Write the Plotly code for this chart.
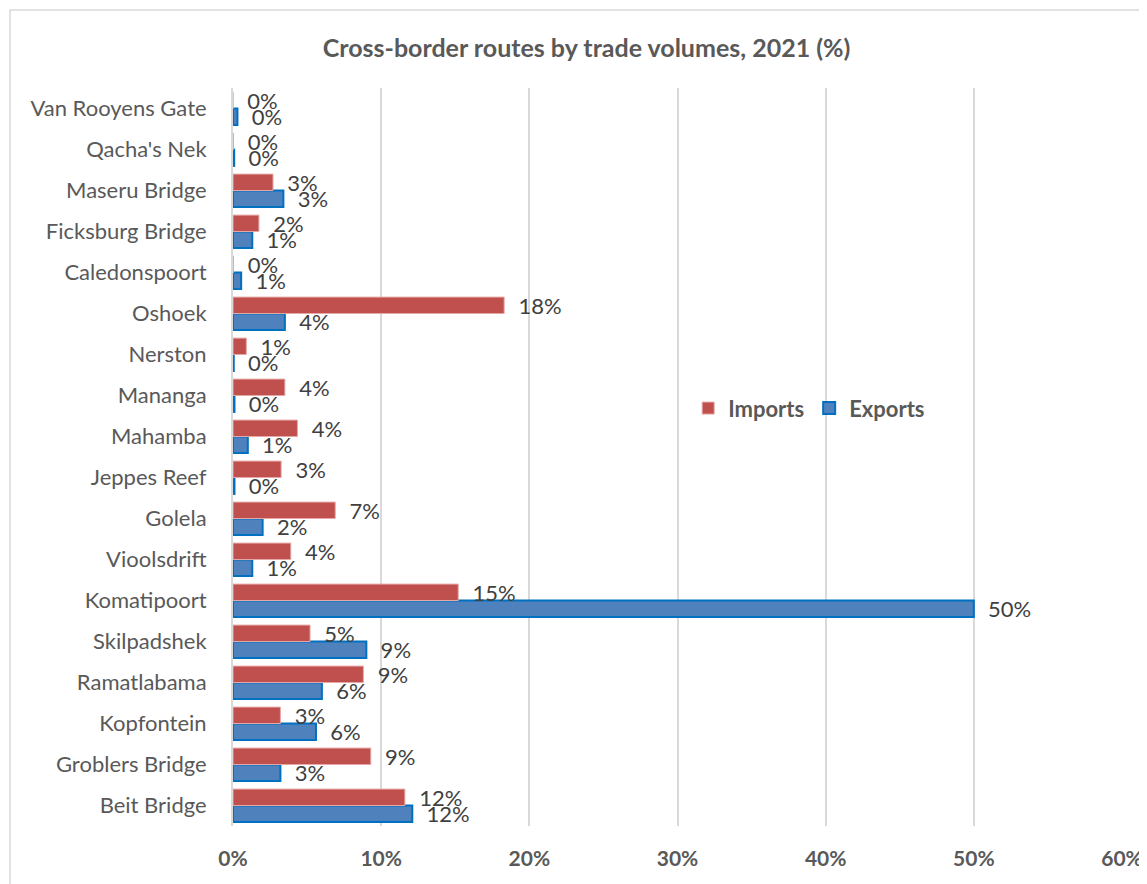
import plotly.graph_objects as go

# Categories listed bottom-to-top
routes = ["Beit Bridge", "Groblers Bridge", "Kopfontein", "Ramatlabama", "Skilpadshek",
          "Komatipoort", "Vioolsdrift", "Golela", "Jeppes Reef", "Mahamba", "Mananga",
          "Nerston", "Oshoek", "Caledonspoort", "Ficksburg Bridge", "Maseru Bridge",
          "Qacha's Nek", "Van Rooyens Gate"]
imports_pct = [11.6, 9.3, 3.2, 8.8, 5.2, 15.2, 3.9, 6.9, 3.25, 4.35, 3.5,
               0.9, 18.3, 0.03, 1.75, 2.7, 0.03, 0.0]
exports_pct = [12.1, 3.2, 5.6, 6.0, 9.0, 50.0, 1.3, 2.0, 0.1, 1.0, 0.1,
               0.05, 3.5, 0.55, 1.3, 3.4, 0.08, 0.3]
x_ticks = [0, 10, 20, 30, 40, 50, 60]
x_tick_labels = ["0%", "10%", "20%", "30%", "40%", "50%", "60%"]

FONT = "Lato, 'Open Sans', sans-serif"
GREY = "#595959"

fig = go.Figure()
fig.add_trace(go.Bar(
    y=routes, x=exports_pct, orientation="h", name="<b>Exports</b>",
    marker=dict(color="#4F81BD", line=dict(color="#0070C0", width=2)),
    texttemplate="\u00a0\u00a0%{x:.0f}%", textposition="outside",
    textfont=dict(family=FONT, size=22, color="#404040"),
    constraintext="none", cliponaxis=False,
))
fig.add_trace(go.Bar(
    y=routes, x=imports_pct, orientation="h", name="<b>Imports</b>",
    marker=dict(color="#C0504D", line=dict(color="#E6A8A6", width=1)),
    texttemplate="\u00a0\u00a0%{x:.0f}%", textposition="outside",
    textfont=dict(family=FONT, size=22, color="#404040"),
    constraintext="none", cliponaxis=False,
))

fig.update_layout(
    width=1139, height=876,
    barmode="group", bargap=0.2, bargroupgap=0,
    paper_bgcolor="white", plot_bgcolor="white",
    margin=dict(l=225, r=25, t=80, b=58),
    title=dict(text="<b>Cross-border routes by trade volumes, 2021 (%)</b>",
               x=0.508, xanchor="center", y=0.954, yanchor="middle",
               font=dict(family=FONT, size=25, color=GREY)),
    font=dict(family=FONT, color=GREY),
    legend=dict(orientation="h", traceorder="reversed", x=0.512, y=0.566,
                xanchor="left", yanchor="middle",
                font=dict(family=FONT, size=22, color=GREY),
                bgcolor="rgba(0,0,0,0)", itemwidth=30),
    xaxis=dict(range=[0, 60], tickvals=x_ticks, ticktext=["<b>%s</b>" % t for t in x_tick_labels],
               showgrid=True, gridcolor="#D9D9D9", gridwidth=1.5, zeroline=False,
               tickfont=dict(family=FONT, size=21, color=GREY), ticks="", ticklabelstandoff=18,
               automargin=False),
    yaxis=dict(showline=True, linecolor="#D9D9D9", linewidth=2, ticks="",
               tickfont=dict(family=FONT, size=22, color=GREY), ticklabelstandoff=20,
               showgrid=False, automargin=False),
    shapes=[dict(type="rect", xref="paper", yref="paper",
                 x0=-0.2508, x1=1.2, y0=-0.3, y1=1.1057,
                 line=dict(color="#D9D9D9", width=1.5), fillcolor="rgba(0,0,0,0)",
                 layer="below")],
)

fig.write_html("out.html")
